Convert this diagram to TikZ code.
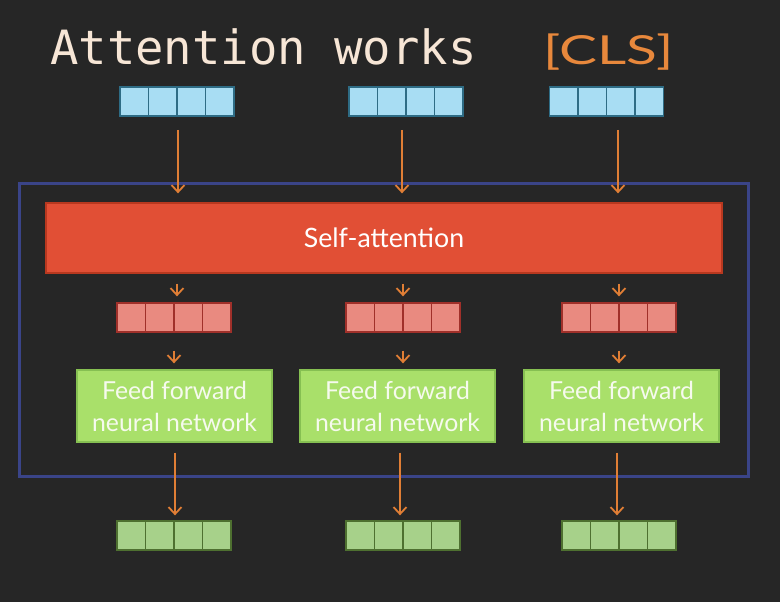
\documentclass[tikz,border=0pt]{standalone}
\usepackage{fontspec}
\setmainfont{Lato}
\newfontfamily\monofont{DejaVu Sans Mono}
\newfontfamily\clsfont[FakeStretch=1.42]{Lato}
\usetikzlibrary{arrows.meta}
\definecolor{bg}{HTML}{262626}
\definecolor{cream}{HTML}{F7E6D6}
\definecolor{clsorange}{HTML}{E8883C}
\definecolor{bluefill}{HTML}{A8DDF3}
\definecolor{bluebd}{HTML}{2E6C85}
\definecolor{outerbd}{HTML}{3A4488}
\definecolor{safill}{HTML}{E14F35}
\definecolor{sabd}{HTML}{B8381F}
\definecolor{pinkfill}{HTML}{E98A80}
\definecolor{pinkbd}{HTML}{A0302A}
\definecolor{ffnfill}{HTML}{A9E06A}
\definecolor{ffnbd}{HTML}{86C052}
\definecolor{ffntext}{HTML}{F6FAEE}
\definecolor{gvfill}{HTML}{A7D18A}
\definecolor{gvbd}{HTML}{4E7030}
\definecolor{arrowc}{HTML}{E07E35}
\tikzset{
  vec/.style={minimum width=114pt, minimum height=29pt, inner sep=0pt, line width=1.3pt,
    path picture={\foreach \k in {1,2,3}{\draw[line width=1.3pt, #1]
      ([xshift=\k*28.5pt]path picture bounding box.south west) --
      ([xshift=\k*28.5pt]path picture bounding box.north west);}}},
  bluevec/.style={vec=bluebd, draw=bluebd, fill=bluefill},
  pinkvec/.style={vec=pinkbd, draw=pinkbd, fill=pinkfill},
  greenvec/.style={vec=gvbd, draw=gvbd, fill=gvfill},
  ffnbox/.style={draw=ffnbd, fill=ffnfill, line width=1.3pt, minimum width=195pt,
    minimum height=72pt, inner sep=0pt, text=ffntext, align=center,
    font=\fontsize{24.8}{32}\selectfont},
  arr/.style={draw=arrowc, line width=1.8pt,
    -{Straight Barb[length=7pt,width=13pt,line width=1.8pt]}},
}
\begin{document}
\begin{tikzpicture}[x=1pt,y=-1pt]
\fill[bg] (0,0) rectangle (780,602);
\useasboundingbox (0,0) rectangle (780,602);

% title
\node[anchor=base west, inner sep=0pt, text=cream,
      font=\monofont\fontsize{47.2}{50}\selectfont] (title) at (50,65) {Attention works};
\node[anchor=base west, inner sep=0pt, text=clsorange,
      font=\clsfont\fontsize{40}{42}\selectfont] (cls) at (543,65) {[CLS]};

% input vectors
\node[bluevec] (b1) at (177,101.5) {};
\node[bluevec] (b2) at (406,101.5) {};
\node[bluevec] (b3) at (606.5,101.5) {};

% encoder outline
\node[draw=outerbd, line width=3pt, minimum width=729pt, minimum height=293pt,
      inner sep=0pt] (enc) at (383.5,329.5) {};

% self-attention
\node[draw=sabd, fill=safill, line width=1.3pt, minimum width=676pt, minimum height=70pt,
      inner sep=0pt, text=white, font=\fontsize{26.7}{30}\selectfont] (sa) at (384,238) {Self-attention};

% intermediate vectors
\node[pinkvec] (p1) at (174,317.5) {};
\node[pinkvec] (p2) at (403,317.5) {};
\node[pinkvec] (p3) at (619,317.5) {};

% feed forward boxes
\node[ffnbox] (f1) at (174.5,406) {Feed forward\\neural network};
\node[ffnbox] (f2) at (397.5,406) {Feed forward\\neural network};
\node[ffnbox] (f3) at (621.5,406) {Feed forward\\neural network};

% output vectors
\node[greenvec] (g1) at (174,535.5) {};
\node[greenvec] (g2) at (403,535.5) {};
\node[greenvec] (g3) at (619,535.5) {};

% arrows: inputs to self-attention
\coordinate (t1) at (178,116);
\coordinate (t2) at (402,116);
\coordinate (t3) at (618,116);
\draw[arr, shorten <=14pt, shorten >=9pt] (t1) -- (t1 |- sa.north);
\draw[arr, shorten <=14pt, shorten >=9pt] (t2) -- (t2 |- sa.north);
\draw[arr, shorten <=14pt, shorten >=9pt] (t3) -- (t3 |- sa.north);

% self-attention to pink vectors
\draw[arr, shorten <=10pt, shorten >=6pt] ([xshift=3pt]p1.north |- sa.south) -- ([xshift=3pt]p1.north);
\draw[arr, shorten <=10pt, shorten >=6pt] (p2.north |- sa.south) -- (p2.north);
\draw[arr, shorten <=10pt, shorten >=6pt] (p3.north |- sa.south) -- (p3.north);

% pink vectors to feed forward
\draw[arr, shorten <=18pt, shorten >=6pt] (p1.south) -- (p1.south |- f1.north);
\draw[arr, shorten <=18pt, shorten >=6pt] (p2.south) -- (p2.south |- f2.north);
\draw[arr, shorten <=18pt, shorten >=6pt] (p3.south) -- (p3.south |- f3.north);

% feed forward to outputs
\draw[arr, shorten <=10pt, shorten >=5pt] ([xshift=1pt]g1.north |- f1.south) -- ([xshift=1pt]g1.north);
\draw[arr, shorten <=10pt, shorten >=5pt] ([xshift=-3pt]g2.north |- f2.south) -- ([xshift=-3pt]g2.north);
\draw[arr, shorten <=10pt, shorten >=5pt] ([xshift=-2pt]g3.north |- f3.south) -- ([xshift=-2pt]g3.north);
\end{tikzpicture}
\end{document}
